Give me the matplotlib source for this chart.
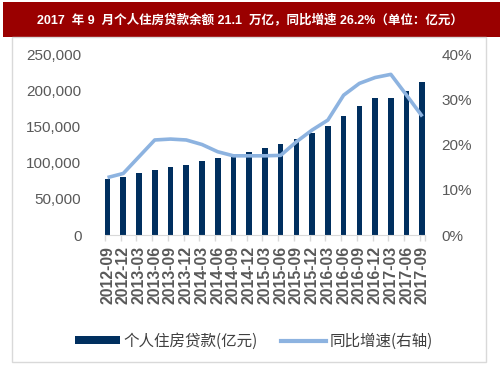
import matplotlib
matplotlib.use("Agg")
import matplotlib.pyplot as plt
from matplotlib.patches import Rectangle
from matplotlib.lines import Line2D
import numpy as np

categories = ["2012-09", "2012-12", "2013-03", "2013-06", "2013-09", "2013-12",
              "2014-03", "2014-06", "2014-09", "2014-12", "2015-03", "2015-06",
              "2015-09", "2015-12", "2016-03", "2016-06", "2016-09", "2016-12",
              "2017-03", "2017-06", "2017-09"]
loans = [76900, 80500, 85200, 89800, 93900, 97100, 102200, 106800, 108700,
         114200, 120600, 125300, 133000, 140900, 150600, 164400, 177800,
         189600, 189600, 199300, 211000]
growth = [12.7, 13.6, 17.3, 21.0, 21.2, 21.0, 20.0, 18.4, 17.5, 17.5, 17.5,
          17.6, 20.6, 23.2, 25.4, 30.9, 33.5, 34.8, 35.5, 30.9, 26.2]
left_ticks = [0, 50000, 100000, 150000, 200000, 250000]
right_ticks = [0, 10, 20, 30, 40]

title = "2017  年 9  月个人住房贷款余额 21.1  万亿，同比增速 26.2%（单位：亿元）"
bar_label = "个人住房贷款(亿元)"
line_label = "同比增速(右轴)"

FAM = ["Liberation Sans", "Noto Sans CJK SC", "DejaVu Sans"]
plt.rcParams['font.family'] = FAM

BAR_C = "#002F5F"
LINE_C = "#8DB3E0"
TXT_C = "#595959"

W, H = 503, 378
fig = plt.figure(figsize=(W / 100, H / 100), dpi=100)
fig.patch.set_facecolor("white")

# title bar
fig.patches.append(Rectangle((3 / W, 1 - 37 / H), 497 / W, 35 / H,
                             transform=fig.transFigure, facecolor="#9A0000",
                             edgecolor="none", zorder=0))
fig.text(250 / W, 1 - 20 / H, title, color="white", fontsize=9.0,
         fontweight="bold", ha="center", va="center", family=FAM)
# frame
fig.patches.append(Rectangle((11.5 / W, 1 - 362 / H), (486 - 11.5) / W, (362 - 37) / H,
                             transform=fig.transFigure, facecolor="none",
                             edgecolor="#D9D9D9", linewidth=1.0, zorder=0))

ax = fig.add_axes([105 / W, 1 - 235 / H, 320 / W, 181 / H])
x = np.arange(len(categories))
ax.bar(x, loans, width=0.36, color=BAR_C, zorder=2)
ax.set_xlim(-0.16, len(categories) - 1 + 0.17)
ax.set_ylim(0, 250000)
ax.set_yticks(left_ticks)
ax.set_yticklabels([f"{v:,}" for v in left_ticks])
ax.tick_params(axis="y", length=0, labelsize=11, labelcolor=TXT_C, pad=17)
ax.set_xticks(x)
ax.set_xticklabels(categories, rotation=90, fontsize=11.4, fontweight="bold", color=TXT_C)
ax.tick_params(axis="x", length=0, pad=8)
ax.set_xticks(np.append(x - 0.16, len(categories) - 1 + 0.17), minor=True)
ax.tick_params(axis="x", which="minor", length=4, color="#D9D9D9", width=1)
for s in ["top", "right", "left"]:
    ax.spines[s].set_visible(False)
ax.spines["bottom"].set_color("#D9D9D9")

ax2 = ax.twinx()
ax2.plot(x, growth, color=LINE_C, linewidth=2.6, zorder=3, solid_capstyle="butt")
ax2.set_ylim(0, 40)
ax2.set_yticks(right_ticks)
ax2.set_yticklabels([f"{v}%" for v in right_ticks])
ax2.tick_params(axis="y", length=0, labelsize=11, labelcolor=TXT_C, pad=12)
for s in ["top", "right", "left", "bottom"]:
    ax2.spines[s].set_visible(False)

handles = [Rectangle((0, 0), 1, 1, facecolor=BAR_C, edgecolor="none"),
           Line2D([0], [0], color=LINE_C, linewidth=3)]
leg = fig.legend(handles, [bar_label, line_label], loc="center",
                 bbox_to_anchor=(254 / W, 1 - 341 / H), ncol=2, frameon=False,
                 handlelength=2.9, handleheight=0.45,
                 columnspacing=1.5, handletextpad=0.2,
                 prop={"family": ["Noto Sans CJK SC", "DejaVu Sans"], "size": 11.2})
for t in leg.get_texts():
    t.set_color("#404040")

fig.savefig("out.png", dpi=100)
